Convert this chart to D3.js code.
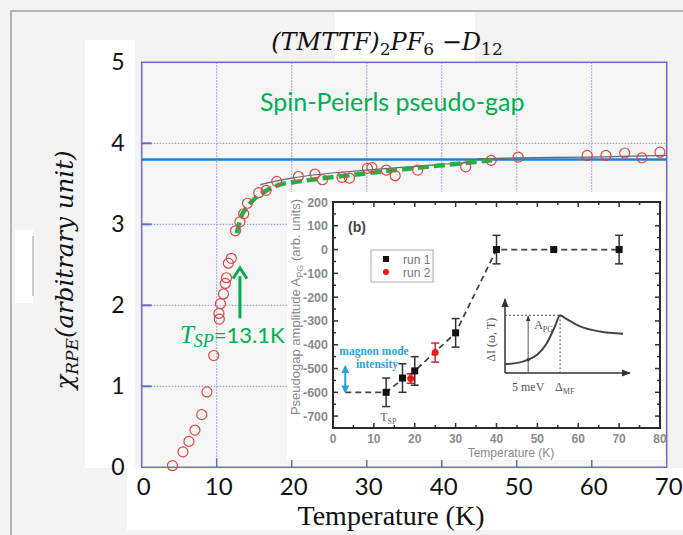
<!DOCTYPE html>
<html>
<head>
<meta charset="utf-8">
<script src="https://cdn.jsdelivr.net/npm/d3@7"></script>
<style>
  body { margin: 0; background: #f3f3f3; }
  svg { display: block; }
</style>
</head>
<body>
<svg id="chart" width="683" height="535"></svg>
<script>
// ---- main panel : chi_RPE versus temperature ----
const rpeT   = [4.1, 5.5, 6.3, 7.1, 8.0, 8.7, 9.6, 10.35, 10.3, 10.5, 10.9, 11.15, 11.3, 11.55, 11.95,
                12.5, 13.1, 13.6, 14.1, 15.6, 16.6, 18.0, 20.9, 23.1, 24.1, 26.7, 27.7, 30.1, 30.7,
                32.6, 33.8, 36.8, 43.2, 46.6, 50.2, 59.4, 61.9, 64.4, 66.7, 69.1];
const rpeChi = [0.02, 0.19, 0.32, 0.46, 0.65, 0.93, 1.38, 1.83, 1.90, 2.02, 2.14, 2.27, 2.34, 2.52, 2.58,
                2.92, 3.03, 3.13, 3.26, 3.39, 3.42, 3.53, 3.59, 3.62, 3.55, 3.58, 3.57, 3.69, 3.70,
                3.67, 3.60, 3.67, 3.71, 3.79, 3.83, 3.85, 3.85, 3.88, 3.82, 3.89];
const fitT   = [15.8, 20, 30, 40, 44, 45, 50, 60, 70];
const fitChi = [3.49, 3.57, 3.67, 3.74, 3.77, 3.81, 3.82, 3.83, 3.85];
const gapT   = [12.7, 13.1, 14.1, 15.1, 16.7, 18.4, 21.1, 30, 40.2, 46.7];
const gapChi = [2.89, 3.05, 3.22, 3.32, 3.42, 3.49, 3.53, 3.63, 3.73, 3.79];
const plateau = 3.8;
const tSP = 13.1;
const mainXTicks = [0, 10, 20, 30, 40, 50, 60, 70];
const mainYTicks = [0, 1, 2, 3, 4, 5];

// ---- inset (b) : pseudogap amplitude ----
const run1T   = [13, 17, 20, 30, 40, 54, 70];
const run1A   = [-600, -540, -510, -350, 0, 0, 0];
const run1Err = [60, 60, 60, 60, 60, 4, 60];
const run2T   = [19, 25];
const run2A   = [-542, -433];
const run2Err = [20, 40];
const guideT  = [3, 13, 17, 20, 30, 40, 70];
const guideA  = [-600, -600, -545, -510, -350, 0, 0];
const insetXTicks = [0, 10, 20, 30, 40, 50, 60, 70, 80];
const insetYTicks = [-700, -600, -500, -400, -300, -200, -100, 0, 100, 200];

// ---- schematic inside the inset ----
const schemW = [0, 3, 5, 7, 9, 10.8, 11.9, 13, 16.2, 20.5, 25.5];
const schemI = [0.12, 0.14, 0.18, 0.25, 0.40, 0.63, 0.78, 0.74, 0.63, 0.56, 0.53];

const svg = d3.select("#chart");
const green = "#00b050", gridCol = "#8c8cd8", frameCol = "#6a6ac8";

const defs = svg.append("defs");
defs.append("marker").attr("id", "ahead").attr("viewBox", "0 0 10 10")
  .attr("refX", 9).attr("refY", 5).attr("markerWidth", 6).attr("markerHeight", 6)
  .attr("orient", "auto-start-reverse")
  .append("path").attr("d", "M0,1L10,5L0,9Z").attr("fill", "#333");
defs.append("marker").attr("id", "bhead").attr("viewBox", "0 0 10 10")
  .attr("refX", 8).attr("refY", 5).attr("markerWidth", 4).attr("markerHeight", 4)
  .attr("orient", "auto-start-reverse")
  .append("path").attr("d", "M0,0L10,5L0,10Z").attr("fill", "#2aa3dc");

// background pieces of the pasted figure
svg.append("rect").attr("x", 11).attr("y", 11).attr("width", 700).attr("height", 560)
  .attr("fill", "#f3f3f3").attr("stroke", "#a0a0a0").attr("stroke-width", 1.5);
svg.append("rect").attr("x", 335).attr("y", 12).attr("width", 140).attr("height", 50).attr("fill", "#fff");
svg.append("rect").attr("x", 85).attr("y", 40).attr("width", 50).attr("height", 428).attr("fill", "#fff");
svg.append("rect").attr("x", 127).attr("y", 468).attr("width", 556).attr("height", 62).attr("fill", "#fff");
svg.append("rect").attr("x", 15).attr("y", 230).attr("width", 18).attr("height", 73).attr("fill", "#fff");
svg.append("line").attr("x1", 33).attr("x2", 33).attr("y1", 236).attr("y2", 296)
  .attr("stroke", "#999").attr("stroke-width", 1);

const x = d3.scaleLinear().domain([0, 70]).range([141.7, 666.7]);
const y = d3.scaleLinear().domain([0, 5]).range([467.3, 62.3]);

svg.append("rect").attr("x", x(0)).attr("y", y(5)).attr("width", x(70) - x(0)).attr("height", y(0) - y(5))
  .attr("fill", "#f5f5f5");

// dotted grid
svg.append("g").selectAll("line").data(mainXTicks.slice(1, -1)).join("line")
  .attr("x1", d => x(d)).attr("x2", d => x(d)).attr("y1", y(5)).attr("y2", y(0))
  .attr("stroke", gridCol).attr("stroke-dasharray", "1.5,1.5");
svg.append("g").selectAll("line").data(mainYTicks.slice(1, -1)).join("line")
  .attr("x1", x(0)).attr("x2", x(70)).attr("y1", d => y(d)).attr("y2", d => y(d))
  .attr("stroke", gridCol).attr("stroke-dasharray", "1.5,1.5");

// inward ticks
svg.append("g").selectAll("line").data(mainYTicks.slice(1, -1)).join("line")
  .attr("x1", x(0)).attr("x2", x(0) + 10).attr("y1", d => y(d)).attr("y2", d => y(d))
  .attr("stroke", frameCol).attr("stroke-width", 2);
svg.append("g").selectAll("line").data(mainXTicks.slice(1, -1)).join("line")
  .attr("x1", d => x(d)).attr("x2", d => x(d)).attr("y1", y(0)).attr("y2", y(0) - 9)
  .attr("stroke", frameCol).attr("stroke-width", 1.5);

svg.append("rect").attr("x", x(0)).attr("y", y(5)).attr("width", x(70) - x(0)).attr("height", y(0) - y(5))
  .attr("fill", "none").attr("stroke", frameCol).attr("stroke-width", 1.5);

// plateau line, fit line, pseudo-gap dashed curve
svg.append("line").attr("x1", x(0)).attr("x2", x(70)).attr("y1", y(plateau)).attr("y2", y(plateau))
  .attr("stroke", "#1f7fd6").attr("stroke-width", 2.5);

const line = d3.line().x(d => x(d[0])).y(d => y(d[1])).curve(d3.curveMonotoneX);
svg.append("path").datum(fitT.map((t, i) => [t, fitChi[i]])).attr("d", line)
  .attr("fill", "none").attr("stroke", "#666").attr("stroke-width", 1.2);
svg.append("path").datum(gapT.map((t, i) => [t, gapChi[i]])).attr("d", line)
  .attr("fill", "none").attr("stroke", "#1fb24a").attr("stroke-width", 4.5).attr("stroke-dasharray", "11,5");

svg.append("g").selectAll("circle").data(rpeT.map((t, i) => [t, rpeChi[i]])).join("circle")
  .attr("cx", d => x(d[0])).attr("cy", d => y(d[1])).attr("r", 5)
  .attr("fill", "none").attr("stroke", "#e04646").attr("stroke-width", 1.2);

// annotations
svg.append("text").attr("x", x(33.4)).attr("y", y(4.4)).attr("text-anchor", "middle")
  .attr("font-family", "Lato").attr("font-size", 25).attr("fill", green).text("Spin-Peierls pseudo-gap");

svg.append("line").attr("x1", x(tSP)).attr("x2", x(tSP)).attr("y1", y(1.84)).attr("y2", y(2.36))
  .attr("stroke", green).attr("stroke-width", 3);
svg.append("path")
  .attr("d", `M${x(tSP) - 7},${y(2.33)}L${x(tSP)},${y(2.46)}L${x(tSP) + 7},${y(2.33)}`)
  .attr("fill", "none").attr("stroke", green).attr("stroke-width", 3);

const tl = svg.append("text").attr("x", x(5.1)).attr("y", y(1.54)).attr("fill", green);
tl.append("tspan").attr("font-family", "Liberation Serif").attr("font-style", "italic").attr("font-size", 25).text("T");
tl.append("tspan").attr("font-family", "Liberation Serif").attr("font-style", "italic").attr("font-size", 18)
  .attr("dy", 4).text("SP");
tl.append("tspan").attr("font-family", "Lato").attr("font-size", 22).attr("dy", -4).text("=13.1K");

// ---------------- inset (b) ----------------
svg.append("rect").attr("x", 287).attr("y", 192).attr("width", 378).attr("height", 268).attr("fill", "#fff");

const ix = d3.scaleLinear().domain([0, 80]).range([333, 660]);
const iy = d3.scaleLinear().domain([-750, 200]).range([428, 202]);
const gray = "#8a8a8a";

const ig = svg.append("g");
// minor / major ticks on all four sides, pointing inward
const xMinor = d3.range(0, 81, 5), yMinor = d3.range(-750, 201, 50);
xMinor.forEach(t => {
  const len = t % 10 === 0 ? 5 : 3;
  ig.append("line").attr("x1", ix(t)).attr("x2", ix(t)).attr("y1", iy(-750)).attr("y2", iy(-750) - len)
    .attr("stroke", "#333").attr("stroke-width", 1.5);
  ig.append("line").attr("x1", ix(t)).attr("x2", ix(t)).attr("y1", iy(200)).attr("y2", iy(200) + len)
    .attr("stroke", "#333").attr("stroke-width", 1.5);
});
yMinor.forEach(v => {
  const len = v % 100 === 0 ? 5 : 3;
  ig.append("line").attr("x1", ix(0)).attr("x2", ix(0) + len).attr("y1", iy(v)).attr("y2", iy(v))
    .attr("stroke", "#333").attr("stroke-width", 1.5);
  ig.append("line").attr("x1", ix(80)).attr("x2", ix(80) - len).attr("y1", iy(v)).attr("y2", iy(v))
    .attr("stroke", "#333").attr("stroke-width", 1.5);
});
ig.append("rect").attr("x", ix(0)).attr("y", iy(200)).attr("width", ix(80) - ix(0)).attr("height", iy(-750) - iy(200))
  .attr("fill", "none").attr("stroke", "#2a2a2a").attr("stroke-width", 2);

ig.append("g").selectAll("text").data(insetYTicks).join("text")
  .attr("x", ix(0) - 5).attr("y", d => iy(d) + 4.5).attr("text-anchor", "end")
  .attr("font-family", "Liberation Sans").attr("font-weight", "bold").attr("font-size", 12.5)
  .attr("fill", gray).text(d => d);
ig.append("g").selectAll("text").data(insetXTicks).join("text")
  .attr("x", d => ix(d)).attr("y", iy(-750) + 15).attr("text-anchor", "middle")
  .attr("font-family", "Liberation Sans").attr("font-weight", "bold").attr("font-size", 12)
  .attr("fill", gray).text(d => d);
ig.append("text").attr("x", 511).attr("y", 457).attr("text-anchor", "middle")
  .attr("font-family", "Liberation Sans").attr("font-size", 12).attr("fill", gray).text("Temperature (K)");
const iyl = ig.append("text").attr("transform", "translate(300,307) rotate(-90)").attr("text-anchor", "middle")
  .attr("font-family", "Liberation Sans").attr("font-size", 13).attr("fill", gray);
iyl.append("tspan").text("Pseudogap amplitude A");
iyl.append("tspan").attr("font-size", 9).attr("dy", 3).text("PG");
iyl.append("tspan").attr("dy", -3).text(" (arb. units)");

// dashed guide, error bars, points
const iline = d3.line().x(d => ix(d[0])).y(d => iy(d[1]));
ig.append("path").datum(guideT.map((t, i) => [t, guideA[i]])).attr("d", iline)
  .attr("fill", "none").attr("stroke", "#444").attr("stroke-width", 1.8).attr("stroke-dasharray", "6,4");

function errBars(ts, as, es, col) {
  ts.forEach((t, i) => {
    if (es[i] < 8) return;
    const g = ig.append("g").attr("stroke", col).attr("stroke-width", 1.5);
    g.append("line").attr("x1", ix(t)).attr("x2", ix(t)).attr("y1", iy(as[i] + es[i])).attr("y2", iy(as[i] - es[i]));
    g.append("line").attr("x1", ix(t) - 4).attr("x2", ix(t) + 4).attr("y1", iy(as[i] + es[i])).attr("y2", iy(as[i] + es[i]));
    g.append("line").attr("x1", ix(t) - 4).attr("x2", ix(t) + 4).attr("y1", iy(as[i] - es[i])).attr("y2", iy(as[i] - es[i]));
  });
}
errBars(run1T, run1A, run1Err, "#333");
errBars(run2T, run2A, run2Err, "#e02020");
ig.append("g").selectAll("rect").data(run1T.map((t, i) => [t, run1A[i]])).join("rect")
  .attr("x", d => ix(d[0]) - 3.5).attr("y", d => iy(d[1]) - 3.5).attr("width", 7).attr("height", 7).attr("fill", "#111");
ig.append("g").selectAll("circle").data(run2T.map((t, i) => [t, run2A[i]])).join("circle")
  .attr("cx", d => ix(d[0])).attr("cy", d => iy(d[1])).attr("r", 3.5).attr("fill", "#e81c1c");

// legend
ig.append("rect").attr("x", 371).attr("y", 250).attr("width", 62).attr("height", 32)
  .attr("fill", "#fff").attr("stroke", "#aaa").attr("stroke-width", 1);
ig.append("rect").attr("x", 383).attr("y", 256).attr("width", 6).attr("height", 6).attr("fill", "#111");
ig.append("circle").attr("cx", 386).attr("cy", 272).attr("r", 3).attr("fill", "#e81c1c");
ig.append("text").attr("x", 403).attr("y", 263.5).attr("font-family", "Liberation Sans").attr("font-size", 12)
  .attr("fill", "#777").text("run 1");
ig.append("text").attr("x", 403).attr("y", 277).attr("font-family", "Liberation Sans").attr("font-size", 12)
  .attr("fill", "#777").text("run 2");
ig.append("text").attr("x", 348).attr("y", 232).attr("font-family", "Liberation Sans").attr("font-weight", "bold")
  .attr("font-size", 14).attr("fill", "#444").text("(b)");

// magnon mode arrow and text
ig.append("line").attr("x1", ix(3)).attr("x2", ix(3)).attr("y1", iy(-492)).attr("y2", iy(-598))
  .attr("stroke", "#2aa3dc").attr("stroke-width", 2)
  .attr("marker-start", "url(#bhead)").attr("marker-end", "url(#bhead)");
ig.append("text").attr("x", 374).attr("y", 355).attr("text-anchor", "middle").attr("font-family", "Liberation Serif")
  .attr("font-weight", "bold").attr("font-size", 11.5).attr("fill", "#2aa3dc").text("magnon mode");
ig.append("text").attr("x", 377).attr("y", 367.5).attr("text-anchor", "middle").attr("font-family", "Liberation Serif")
  .attr("font-weight", "bold").attr("font-size", 11.5).attr("fill", "#2aa3dc").text("intensity");
const tsp = ig.append("text").attr("x", ix(13) - 6).attr("y", 421).attr("font-family", "Liberation Serif")
  .attr("font-size", 12).attr("fill", "#666");
tsp.append("tspan").text("T");
tsp.append("tspan").attr("font-size", 8).attr("dy", 3).text("SP");

// schematic ΔI(ω,T)
const sx = d3.scaleLinear().domain([0, 27]).range([505, 630]);
const sy = d3.scaleLinear().domain([0, 1]).range([373, 299]);
ig.append("line").attr("x1", sx(0)).attr("x2", sx(0)).attr("y1", sy(0)).attr("y2", sy(1))
  .attr("stroke", "#333").attr("stroke-width", 1.5).attr("marker-end", "url(#ahead)");
ig.append("line").attr("x1", sx(0)).attr("x2", sx(27)).attr("y1", sy(0)).attr("y2", sy(0))
  .attr("stroke", "#333").attr("stroke-width", 1.5).attr("marker-end", "url(#ahead)");
ig.append("line").attr("x1", sx(0)).attr("x2", sx(11.9)).attr("y1", sy(0.78)).attr("y2", sy(0.78))
  .attr("stroke", "#555").attr("stroke-dasharray", "2,2");
ig.append("line").attr("x1", sx(11.9)).attr("x2", sx(11.9)).attr("y1", sy(0.78)).attr("y2", sy(0))
  .attr("stroke", "#555").attr("stroke-dasharray", "2,2");
ig.append("line").attr("x1", sx(5)).attr("x2", sx(5)).attr("y1", sy(0)).attr("y2", sy(0.77))
  .attr("stroke", "#555").attr("stroke-width", 1).attr("marker-end", "url(#ahead)");
ig.append("path").datum(schemW.map((w, i) => [w, schemI[i]]))
  .attr("d", d3.line().x(d => sx(d[0])).y(d => sy(d[1])).curve(d3.curveMonotoneX))
  .attr("fill", "none").attr("stroke", "#444").attr("stroke-width", 2);
ig.append("circle").attr("cx", sx(5)).attr("cy", sy(0.18)).attr("r", 1.8).attr("fill", "#444");
const apg = ig.append("text").attr("x", sx(5) + 6).attr("y", sy(0.6)).attr("font-family", "Liberation Serif")
  .attr("font-size", 12).attr("fill", "#555");
apg.append("tspan").text("A");
apg.append("tspan").attr("font-size", 8).attr("dy", 3).text("PG");
ig.append("text").attr("x", sx(5)).attr("y", 391).attr("text-anchor", "middle").attr("font-family", "Liberation Serif")
  .attr("font-size", 12).attr("fill", "#555").text("5 meV");
const dmf = ig.append("text").attr("x", sx(11.9) - 5).attr("y", 391).attr("font-family", "Liberation Serif")
  .attr("font-size", 12).attr("fill", "#555");
dmf.append("tspan").text("Δ");
dmf.append("tspan").attr("font-size", 8).attr("dy", 3).text("MF");
ig.append("text").attr("transform", `translate(${sx(0) - 10},${sy(0.45)}) rotate(-90)`).attr("text-anchor", "middle")
  .attr("font-family", "Liberation Serif").attr("font-size", 12).attr("fill", "#555").text("ΔI (ω, T)");

// ---------------- main labels ----------------
svg.append("g").selectAll("text").data(mainYTicks).join("text")
  .attr("x", 118).attr("y", d => y(d) + 8).attr("text-anchor", "middle")
  .attr("font-family", "Lato").attr("font-size", 23).attr("fill", "#111").text(d => d);
svg.append("g").selectAll("text").data(mainXTicks).join("text")
  .attr("x", d => x(d) + 2).attr("y", 495).attr("text-anchor", "middle")
  .attr("font-family", "Lato").attr("font-size", 24).attr("fill", "#111").text(d => d);

svg.append("text").attr("x", 391).attr("y", 525).attr("text-anchor", "middle")
  .attr("font-family", "Liberation Serif").attr("font-size", 28).attr("fill", "#111").text("Temperature (K)");

const yl = svg.append("text").attr("transform", "translate(73,270) rotate(-90)").attr("text-anchor", "middle")
  .attr("font-family", "DejaVu Serif").attr("font-style", "italic").attr("font-size", 24.5).attr("fill", "#111");
yl.append("tspan").text("χ");
yl.append("tspan").attr("font-size", 17).attr("dy", 5).text("RPE");
yl.append("tspan").attr("dy", -5).text("(arbitrary unit)");

const title = svg.append("text").attr("x", 387).attr("y", 50).attr("text-anchor", "middle")
  .attr("font-family", "DejaVu Serif").attr("font-style", "italic").attr("font-size", 24).attr("fill", "#111");
title.append("tspan").text("(TMTTF)");
title.append("tspan").attr("font-size", 17).attr("font-style", "normal").attr("dy", 5).text("2");
title.append("tspan").attr("dy", -5).text("PF");
title.append("tspan").attr("font-size", 17).attr("font-style", "normal").attr("dy", 5).text("6");
title.append("tspan").attr("dy", -5).text(" −D");
title.append("tspan").attr("font-size", 17).attr("font-style", "normal").attr("dy", 5).text("12");
</script>
</body>
</html>
